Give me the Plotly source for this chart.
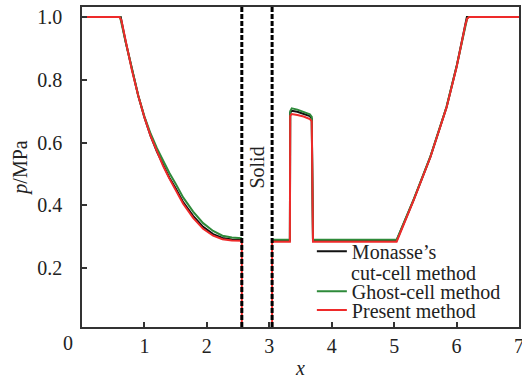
import plotly.graph_objects as go

# ---------------- data ----------------
solid_edges = [2.56, 3.045]

x_present = [0.0, 0.60, 0.63, 0.70, 0.80, 0.90, 1.00, 1.10, 1.20, 1.30, 1.40, 1.50, 1.62, 1.78, 1.94, 2.10, 2.25, 2.40, 2.56,
             2.56, 3.045,
             3.045, 3.33, 3.335, 3.36, 3.45, 3.55, 3.65, 3.68, 3.70, 5.04, 5.31, 5.58, 5.84, 6.00, 6.14, 6.17, 6.20, 7.0]
p_present = [1.0, 1.0, 0.99, 0.92, 0.83, 0.75, 0.68, 0.62, 0.57, 0.525, 0.485, 0.45, 0.405, 0.36, 0.325, 0.303, 0.292, 0.288, 0.287,
             0.0, 0.0,
             0.284, 0.284, 0.685, 0.691, 0.688, 0.683, 0.675, 0.668, 0.284, 0.284, 0.415, 0.553, 0.712, 0.84, 0.975, 0.995, 1.0, 1.0]

x_monasse = [0.0, 0.62, 0.70, 0.80, 0.90, 1.00, 1.10, 1.20, 1.30, 1.40, 1.50, 1.62, 1.78, 1.94, 2.10, 2.25, 2.40, 2.56,
             None,
             3.045, 3.33, 3.335, 3.36, 3.45, 3.55, 3.65, 3.68, 3.70, 5.04, 5.31, 5.58, 5.84, 6.00, 6.14, 6.165, 7.0]
p_monasse = [1.0, 1.0, 0.92, 0.83, 0.75, 0.68, 0.62, 0.571, 0.527, 0.488, 0.454, 0.41, 0.366, 0.331, 0.308, 0.296, 0.291, 0.29,
             None,
             0.288, 0.288, 0.695, 0.701, 0.698, 0.692, 0.684, 0.676, 0.288, 0.288, 0.416, 0.554, 0.713, 0.842, 0.98, 1.0, 1.0]

x_ghost = [0.0, 0.61, 0.70, 0.80, 0.90, 1.00, 1.10, 1.20, 1.30, 1.40, 1.50, 1.62, 1.78, 1.94, 2.10, 2.25, 2.40, 2.56,
           None,
           3.045, 3.33, 3.335, 3.36, 3.45, 3.55, 3.65, 3.68, 3.70, 5.04, 5.31, 5.58, 5.84, 6.00, 6.14, 6.17, 6.20, 7.0]
p_ghost = [1.0, 1.0, 0.92, 0.83, 0.75, 0.683, 0.628, 0.582, 0.54, 0.503, 0.469, 0.425, 0.38, 0.343, 0.318, 0.303, 0.297, 0.295,
           None,
           0.29, 0.29, 0.70, 0.709, 0.705, 0.698, 0.69, 0.682, 0.29, 0.29, 0.417, 0.555, 0.714, 0.842, 0.977, 0.996, 1.0, 1.0]

x_ticks = [1, 2, 3, 4, 5, 6, 7]
y_ticks = [0.2, 0.4, 0.6, 0.8, 1.0]

FONT = "Liberation Serif"
BLACK = "#111111"
GREEN = "#2e8a3a"
RED = "#ee2a2a"

fig = go.Figure()
fig.add_trace(go.Scatter(x=x_monasse, y=p_monasse, mode="lines", name="Monasse’s",
                         line=dict(color=BLACK, width=2), legend="legend", showlegend=True))
fig.add_trace(go.Scatter(x=x_ghost, y=p_ghost, mode="lines", name="Ghost-cell method",
                         line=dict(color=GREEN, width=2), legend="legend2", showlegend=True))
fig.add_trace(go.Scatter(x=x_present, y=p_present, mode="lines", name="Present method",
                         line=dict(color=RED, width=2), legend="legend3", showlegend=True))

for xe in solid_edges:
    fig.add_vline(x=xe, line=dict(color="black", width=3, dash="5px,2px"), layer="above")

fig.add_annotation(x=sum(solid_edges) / 2, y=0.52, text="Solid", textangle=-90, showarrow=False,
                   font=dict(family=FONT, size=20, color="#222"), xanchor="center", yanchor="middle")
fig.add_annotation(x=-0.032, y=-0.05, xref="paper", yref="paper", text="0", showarrow=False,
                   font=dict(family=FONT, size=20, color="#222"), xanchor="center", yanchor="middle")
# second line of the first legend entry
fig.add_annotation(x=0.612, y=0.170, xref="paper", yref="paper", text="cut-cell method", showarrow=False,
                   font=dict(family=FONT, size=20, color="#222"), xanchor="left", yanchor="middle")

leg_common = dict(font=dict(family=FONT, size=20, color="#222"), bgcolor="rgba(0,0,0,0)",
                  borderwidth=0, xanchor="left", yanchor="top", itemwidth=30, valign="top",
                  x=0.526, visible=True)
fig.update_layout(
    width=522, height=379,
    margin=dict(l=82, r=3, t=7, b=52, autoexpand=False),
    paper_bgcolor="white", plot_bgcolor="white",
    font=dict(family=FONT, size=20, color="#222"),
    showlegend=True,
    legend=dict(**leg_common, y=0.298),
    legend2=dict(**leg_common, y=0.173),
    legend3=dict(**leg_common, y=0.114),
    xaxis=dict(range=[0, 7], tickvals=x_ticks, ticktext=[str(v) for v in x_ticks],
               ticks="inside", ticklen=5, tickwidth=1.5, tickcolor="#333",
               showline=True, linecolor="#333", linewidth=1.5, mirror=True,
               showgrid=False, zeroline=False, automargin=False, ticklabeloverflow="allow",
               title=dict(text="<i>x</i>", font=dict(family=FONT, size=20), standoff=6),
               tickfont=dict(family=FONT, size=20)),
    yaxis=dict(range=[0.012, 1.032], tickvals=y_ticks, tickformat=".1f",
               ticks="inside", ticklen=5, tickwidth=1.5, tickcolor="#333",
               showline=True, linecolor="#333", linewidth=1.5, mirror=True,
               showgrid=False, zeroline=False, ticklabelstandoff=14, automargin=False,
               title=dict(text="<i>p</i>/MPa", font=dict(family=FONT, size=20), standoff=4),
               tickfont=dict(family=FONT, size=20)),
)

fig.write_html("out.html")
